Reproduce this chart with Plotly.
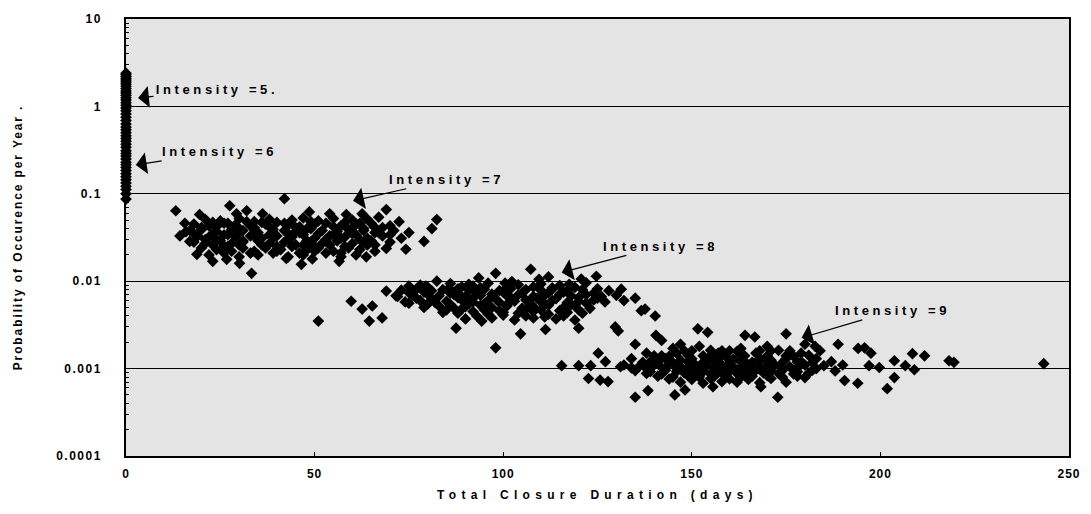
import math
import plotly.graph_objects as go

# ---------------- data ----------------
i5_x = [0] * 22
i5_y = [2.4, 2.3, 2.2, 2.1, 2.0, 1.9, 1.8, 1.7, 1.6, 1.5, 1.42, 1.34, 1.26, 1.18, 1.1, 1.03,
        0.96, 0.89, 0.82, 0.75, 0.69, 0.63]
i6_x = [0] * 24
i6_y = [0.58, 0.54, 0.5, 0.46, 0.43, 0.4, 0.37, 0.34, 0.31, 0.29, 0.27, 0.25, 0.23, 0.215,
        0.2, 0.185, 0.17, 0.157, 0.145, 0.133, 0.122, 0.112, 0.1, 0.087]

i7_x = [13.2, 42.0, 27.5, 29.3, 32.0, 36.2, 19.5, 15.9, 16.9, 18.8, 23.0, 26.7, 33.3, 30.1, 42.5,
        46.5, 49.4, 56.5, 63.7, 69.0, 74.2, 79.0, 82.4, 81.1, 69.0, 72.4, 58.4, 62.6, 48.6, 54.0,
        65.8, 14.3, 15.6,
        21, 25, 30, 34, 38, 44, 47, 51, 55, 60, 64, 67,
        18, 22, 26, 29, 33, 37, 40, 43, 46, 50, 53, 57, 61, 65, 70,
        17, 20, 24, 28, 31, 35, 39, 42, 45, 48, 52, 56, 59, 63, 67, 71, 75,
        19, 22, 26, 29, 33, 36, 40, 44, 47, 50, 54, 58, 61, 64, 68, 73,
        18, 21, 25, 28, 31, 35, 38, 42, 45, 49, 52, 56, 60, 63, 66, 70,
        20, 24, 27, 31, 34, 37, 41, 44, 48, 51, 55, 59, 62, 66,
        22, 26, 30, 35, 39, 43, 47, 53, 57, 61,
        23, 27, 32, 36, 42, 49, 58, 62,
        20, 24, 30, 34, 38, 45, 49, 55, 60, 63, 68,
        18, 23, 27, 30, 34, 38, 43, 46, 51, 55, 60, 66, 70,
        21, 24, 31, 35, 39, 43, 48, 53, 57, 62, 65,
        23, 26, 30, 36, 40, 47, 50, 54, 58, 64,
        28, 33, 40, 46, 50, 57]
i7_y = [0.064, 0.088, 0.073, 0.059, 0.064, 0.059, 0.058, 0.037, 0.0285, 0.0203, 0.0169, 0.0178,
        0.0123, 0.016, 0.0182, 0.0156, 0.018, 0.0169, 0.019, 0.0237, 0.0232, 0.0285, 0.0507,
        0.040, 0.066, 0.048, 0.058, 0.059, 0.062, 0.059, 0.042, 0.033, 0.046,
        0.051, 0.049, 0.052, 0.048, 0.051, 0.050, 0.053, 0.049, 0.052, 0.050, 0.051, 0.054,
        0.045, 0.043, 0.046, 0.044, 0.043, 0.045, 0.047, 0.044, 0.042, 0.045, 0.046, 0.043,
        0.045, 0.046, 0.043,
        0.038, 0.039, 0.037, 0.039, 0.038, 0.036, 0.039, 0.038, 0.037, 0.040, 0.038, 0.037,
        0.039, 0.038, 0.036, 0.038, 0.036,
        0.033, 0.032, 0.034, 0.032, 0.033, 0.031, 0.033, 0.032, 0.034, 0.031, 0.033, 0.032,
        0.034, 0.031, 0.033, 0.031,
        0.028, 0.027, 0.029, 0.027, 0.028, 0.029, 0.027, 0.028, 0.026, 0.028, 0.027, 0.029,
        0.027, 0.028, 0.026, 0.028,
        0.024, 0.023, 0.025, 0.024, 0.022, 0.024, 0.023, 0.025, 0.023, 0.024, 0.022, 0.024,
        0.023, 0.022,
        0.020, 0.021, 0.019, 0.020, 0.021, 0.019, 0.020, 0.021, 0.019, 0.020,
        0.047, 0.046, 0.048, 0.047, 0.046, 0.048, 0.047, 0.046,
        0.041, 0.042, 0.040, 0.041, 0.042, 0.041, 0.040, 0.042, 0.041, 0.040, 0.041,
        0.035, 0.035, 0.034, 0.036, 0.035, 0.034, 0.035, 0.036, 0.035, 0.034, 0.035, 0.036, 0.034,
        0.030, 0.030, 0.029, 0.030, 0.031, 0.030, 0.029, 0.030, 0.031, 0.030, 0.029,
        0.026, 0.025, 0.026, 0.026, 0.025, 0.026, 0.025, 0.026, 0.025, 0.026,
        0.022, 0.021, 0.022, 0.021, 0.022, 0.021]

i8_x = [59.7, 51.0, 62.6, 64.5, 67.9, 65.3, 69.0, 71.6, 75.0, 75.0, 79.5, 82.4, 85.6, 88.2, 90.9,
        93.5, 98.0, 100.5, 102.3, 107.3, 109.5, 112.0, 117.5, 120.7, 124.7, 87.5, 94.3, 98.0,
        104.6, 111.2, 120.0, 130.5, 129.7, 131.3, 135.0, 136.6, 137.6, 140.3, 132.0,
        78, 86, 92, 96, 104, 110, 115, 122,
        73, 77, 81, 84, 88, 91, 95, 99, 102, 106, 110, 113, 117, 121, 125, 128,
        72, 76, 80, 83, 87, 90, 94, 97, 101, 104, 108, 111, 115, 118, 122, 126, 130,
        74, 78, 82, 85, 89, 92, 96, 99, 103, 106, 110, 113, 117, 120, 124, 127,
        79, 83, 87, 90, 94, 97, 101, 105, 108, 112, 116, 119, 123,
        84, 88, 92, 96, 100, 104, 108, 112, 117, 121,
        90, 97, 103, 108, 114, 119,
        80, 89, 94, 101, 108, 113, 119,
        75, 79, 86, 93, 100, 105, 112, 116, 124,
        77, 81, 88, 92, 98, 102, 109, 114, 120, 125,
        80, 86, 91, 95, 101, 107, 111, 118, 122,
        85, 89, 95, 99, 106, 110, 115, 120,
        93, 100, 106, 111, 116]
i8_y = [0.0059, 0.0035, 0.0048, 0.0035, 0.0038, 0.0052, 0.0077, 0.0068, 0.0056, 0.0088, 0.0088,
        0.0100, 0.0083, 0.0072, 0.0092, 0.0109, 0.0123, 0.0095, 0.0099, 0.0137, 0.0105, 0.0112,
        0.0092, 0.0106, 0.0114, 0.0029, 0.0035, 0.00173, 0.0025, 0.0028, 0.0029, 0.0027, 0.0030,
        0.0081, 0.0064, 0.0046, 0.0048, 0.0040, 0.0060,
        0.0090, 0.0094, 0.0088, 0.0095, 0.0091, 0.0093, 0.0089, 0.0096,
        0.0079, 0.0081, 0.0078, 0.0080, 0.0082, 0.0079, 0.0081, 0.0078, 0.0082, 0.0080, 0.0079,
        0.0081, 0.0078, 0.0080, 0.0082, 0.0078,
        0.0067, 0.0069, 0.0071, 0.0068, 0.0070, 0.0067, 0.0069, 0.0071, 0.0068, 0.0070, 0.0067,
        0.0069, 0.0071, 0.0068, 0.0070, 0.0067, 0.0069,
        0.0058, 0.0060, 0.0057, 0.0059, 0.0061, 0.0058, 0.0060, 0.0057, 0.0059, 0.0061, 0.0058,
        0.0060, 0.0057, 0.0059, 0.0061, 0.0058,
        0.0050, 0.0052, 0.0049, 0.0051, 0.0053, 0.0050, 0.0052, 0.0049, 0.0051, 0.0053, 0.0050,
        0.0052, 0.0049,
        0.0044, 0.0043, 0.0045, 0.0042, 0.0044, 0.0043, 0.0045, 0.0042, 0.0044, 0.0043,
        0.0037, 0.0038, 0.0036, 0.0038, 0.0037, 0.0036,
        0.0085, 0.0086, 0.0084, 0.0085, 0.0086, 0.0084, 0.0085,
        0.0074, 0.0075, 0.0073, 0.0074, 0.0075, 0.0073, 0.0074, 0.0075, 0.0073,
        0.0064, 0.0063, 0.0065, 0.0064, 0.0063, 0.0065, 0.0064, 0.0063, 0.0065, 0.0064,
        0.0055, 0.0054, 0.0056, 0.0055, 0.0054, 0.0056, 0.0055, 0.0054, 0.0056,
        0.0047, 0.0048, 0.0047, 0.0046, 0.0048, 0.0047, 0.0046, 0.0047,
        0.0040, 0.0041, 0.0040, 0.0039, 0.0040]

i9_x = [115.5, 120.0, 123.2, 122.6, 125.7, 127.8, 125.2, 127.1, 131.1, 140.5, 151.6, 154.2,
        164.1, 166.7, 175.0, 180.0, 182.7, 188.8, 194.1, 195.8, 197.5, 203.7, 208.5, 211.7,
        218.2, 219.5, 243.3, 197.0, 199.7, 206.6, 209.0, 203.7, 190.5, 194.0, 201.8, 180.0,
        172.8, 168.3, 155.6, 148.2, 145.5, 138.4, 135.0, 142, 147, 135,
        145, 152, 158, 163, 170, 176,
        138, 142, 146, 150, 153, 157, 160, 164, 167, 171, 175, 179, 184,
        134, 139, 143, 147, 150, 154, 157, 161, 164, 168, 171, 175, 179, 183, 187,
        132, 136, 140, 144, 147, 151, 154, 158, 161, 165, 168, 172, 176, 180, 185, 190,
        135, 139, 143, 146, 150, 153, 157, 160, 164, 167, 171, 174, 178, 182, 188,
        141, 145, 149, 152, 156, 159, 163, 166, 170, 174, 178,
        147, 153, 158, 162, 168, 175,
        148, 155, 162, 168, 173,
        140, 144, 149, 155, 159, 163, 170, 177, 181,
        137, 141, 145, 149, 153, 156, 160, 163, 166, 170, 174, 178, 182,
        134, 138, 142, 146, 149, 152, 156, 159, 163, 166, 170, 174, 178, 183,
        138, 142, 148, 151, 155, 158, 162, 165, 169, 173, 177, 181,
        144, 150, 155, 160, 165, 171]
i9_y = [0.00108, 0.00108, 0.00108, 0.00077, 0.00074, 0.00071, 0.0015, 0.0012, 0.00105, 0.0024,
        0.00285, 0.0026, 0.0024, 0.0023, 0.0025, 0.0019, 0.0018, 0.0019, 0.0017, 0.00173,
        0.0015, 0.00123, 0.00148, 0.00140, 0.00123, 0.00118, 0.00114, 0.00108, 0.00103,
        0.00108, 0.00097, 0.00079, 0.00073, 0.00068, 0.00059, 0.00079, 0.00047, 0.00062,
        0.00062, 0.00057, 0.00050, 0.00056, 0.00047, 0.0021, 0.0019, 0.0019,
        0.0017, 0.0018, 0.0016, 0.0017, 0.0018, 0.0016,
        0.0015, 0.0014, 0.0015, 0.0016, 0.0014, 0.0015, 0.0016, 0.0014, 0.0015, 0.0016, 0.0014,
        0.0015, 0.0016,
        0.0013, 0.0012, 0.0013, 0.00125, 0.0013, 0.0012, 0.0013, 0.00128, 0.0012, 0.0013,
        0.00125, 0.0013, 0.0012, 0.0013, 0.0012,
        0.0011, 0.00105, 0.0011, 0.00112, 0.00105, 0.0011, 0.00108, 0.0011, 0.00105, 0.0011,
        0.00108, 0.0011, 0.00105, 0.0011, 0.00108, 0.0011,
        0.00095, 0.00092, 0.00096, 0.00093, 0.00095, 0.00092, 0.00096, 0.00094, 0.00092,
        0.00096, 0.00093, 0.00095, 0.00092, 0.00096, 0.00094,
        0.00082, 0.0008, 0.00083, 0.0008, 0.00082, 0.00084, 0.0008, 0.00082, 0.00083, 0.0008,
        0.00082,
        0.0007, 0.00068, 0.00071, 0.0007, 0.00069, 0.0007,
        0.0016, 0.00162, 0.00158, 0.0016, 0.00162,
        0.0014, 0.00138, 0.00142, 0.0014, 0.00138, 0.00142, 0.0014, 0.00138, 0.00142,
        0.00118, 0.0012, 0.00117, 0.00119, 0.00118, 0.0012, 0.00117, 0.00119, 0.00118, 0.0012,
        0.00117, 0.00119, 0.00118,
        0.00102, 0.001, 0.00103, 0.00101, 0.00102, 0.001, 0.00103, 0.00101, 0.00102, 0.001,
        0.00103, 0.00101, 0.00102, 0.001,
        0.00088, 0.00087, 0.00089, 0.00088, 0.00087, 0.00089, 0.00088, 0.00087, 0.00089,
        0.00088, 0.00087, 0.00089,
        0.00076, 0.00075, 0.00077, 0.00076, 0.00075, 0.00077]

x_ticks = [0, 50, 100, 150, 200, 250]
y_ticks = [10, 1, 0.1, 0.01, 0.001, 0.0001]
y_tick_text = ["10", "1", "0.1", "0.01", "0.001", "0.0001"]

ann_text = ["Intensity =5.", "Intensity =6", "Intensity =7", "Intensity =8", "Intensity =9"]
# arrow tips (days, probability), text-centre offsets (px), text box widths (px)
ann_x = [3.2, 2.6, 60.2, 115.5, 179.1]
ann_y = [1.25, 0.214, 0.0832, 0.0126, 0.00225]
ann_ax = [79, 84, 93, 99, 91]
ann_ay = [-8, -13, -21, -26, -27]
ann_w = [124, 117, 117, 117, 117]
LETTER_SP = 3.6

# ---------------- figure ----------------
fig = go.Figure()
marker = dict(symbol="diamond", size=9, color="black", line=dict(width=0))
for name, xs, ys in [("Intensity 5", i5_x, i5_y), ("Intensity 6", i6_x, i6_y),
                     ("Intensity 7", i7_x, i7_y), ("Intensity 8", i8_x, i8_y),
                     ("Intensity 9", i9_x, i9_y)]:
    fig.add_trace(go.Scatter(x=xs, y=ys, mode="markers", name=name, marker=marker,
                             cliponaxis=False, showlegend=False, hoverinfo="x+y"))

font_family = "Liberation Sans, Arial, sans-serif"
for t, x, y, ax, ay, w in zip(ann_text, ann_x, ann_y, ann_ax, ann_ay, ann_w):
    fig.add_annotation(x=x, y=math.log10(y), xref="x", yref="y", text=t, showarrow=True,
                       ax=ax, ay=ay, width=w, align="center",
                       arrowhead=1, arrowsize=3, arrowwidth=1.2, arrowcolor="black",
                       font=dict(family=font_family, size=13, color="black", weight="bold"))

minor_vals = [m * 10 ** e for e in range(-4, 1) for m in range(2, 10)]

fig.update_layout(
    width=1091, height=514,
    margin=dict(l=126, r=21, t=16, b=58),
    paper_bgcolor="white",
    plot_bgcolor="#e4e4e4",
    font=dict(family=font_family, size=11, color="black", weight="bold"),
    showlegend=False,
    xaxis=dict(
        range=[0, 250], tickvals=x_ticks, ticks="inside", ticklen=4, tickcolor="black",
        showgrid=False, zeroline=False, showline=True, linecolor="black", linewidth=1.5,
        mirror=True, ticklabelstandoff=6,
        tickfont=dict(family=font_family, size=12, color="black", weight="bold"),
        title=dict(text="Total Closure Duration (days)", standoff=10,
                   font=dict(family=font_family, size=12, color="black", weight="bold")),
    ),
    yaxis=dict(
        type="log", range=[-4, 1], tickvals=y_ticks, ticktext=y_tick_text,
        ticks="", showgrid=True, gridcolor="black", gridwidth=1, zeroline=False,
        showline=True, linecolor="black", linewidth=1.5, mirror=True,
        ticklabelstandoff=20,
        tickfont=dict(family=font_family, size=12, color="black", weight="bold"),
        minor=dict(tickvals=minor_vals, ticks="inside", ticklen=3, tickcolor="black",
                   showgrid=False),
        title=dict(text="Probability of Occurence per Year .", standoff=40,
                   font=dict(family=font_family, size=12, color="black", weight="bold")),
    ),
)

post = """
document.body.style.margin = '0';
function ls(sel, v) { document.querySelectorAll(sel).forEach(function(e){ e.style.letterSpacing = v; }); }
ls('.xtitle', '5.3px');
ls('.ytitle', '1.9px');
ls('.annotation-text', '%spx');
ls('.ytick text', '1.5px');
ls('.xtick text', '1px');
""" % LETTER_SP
fig.write_html("out.html", post_script=post, config={"displayModeBar": False})
